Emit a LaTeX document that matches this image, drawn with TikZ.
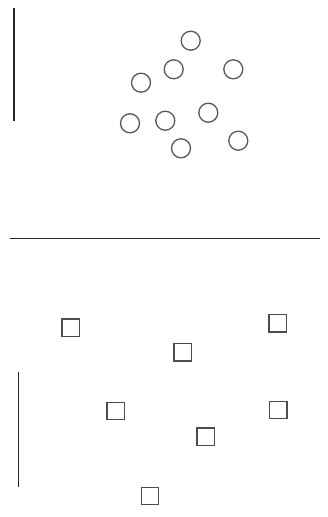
\documentclass[tikz,border=0pt]{standalone}
\begin{document}
\begin{tikzpicture}[x=1pt,y=-1pt,
  dot/.style={circle,draw=black!65,line width=1.3pt,minimum size=19pt,inner sep=0pt},
  box/.style={rectangle,draw=black!70,line width=1.3pt,minimum size=17.5pt,inner sep=0pt},
  rule/.style={draw=black!85,line width=1.6pt}]
\useasboundingbox[fill=white] (0,0) rectangle (327,517);
% top bar
\coordinate (t1) at (14,8);
\coordinate (t2) at (14,121);
\draw[rule] (t1) -- (t2);
% circles
\node[dot] (c1) at (190.7,40.7) {};
\node[dot] (c2) at (173.7,69.3) {};
\node[dot] (c3) at (233.3,69.3) {};
\node[dot] (c4) at (141,82.7) {};
\node[dot] (c5) at (208.3,112.7) {};
\node[dot] (c6) at (130,123.3) {};
\node[dot] (c7) at (165.3,120.7) {};
\node[dot] (c8) at (238.3,140.7) {};
\node[dot] (c9) at (181,148.3) {};
% divider
\coordinate (h1) at (10,238.3);
\coordinate (h2) at (320,238.3);
\draw[rule] (h1) -- (h2);
% bottom bar
\coordinate (b1) at (18.5,372);
\coordinate (b2) at (18.5,486.5);
\draw[rule] (b1) -- (b2);
% squares
\node[box] (s1) at (70.7,327.7) {};
\node[box] (s2) at (277.7,323.3) {};
\node[box] (s3) at (182.7,352.3) {};
\node[box] (s4) at (115.7,411) {};
\node[box] (s5) at (278.3,410) {};
\node[box] (s6) at (205.7,436.7) {};
\node[box] (s7) at (150,496) {};
\end{tikzpicture}
\end{document}
